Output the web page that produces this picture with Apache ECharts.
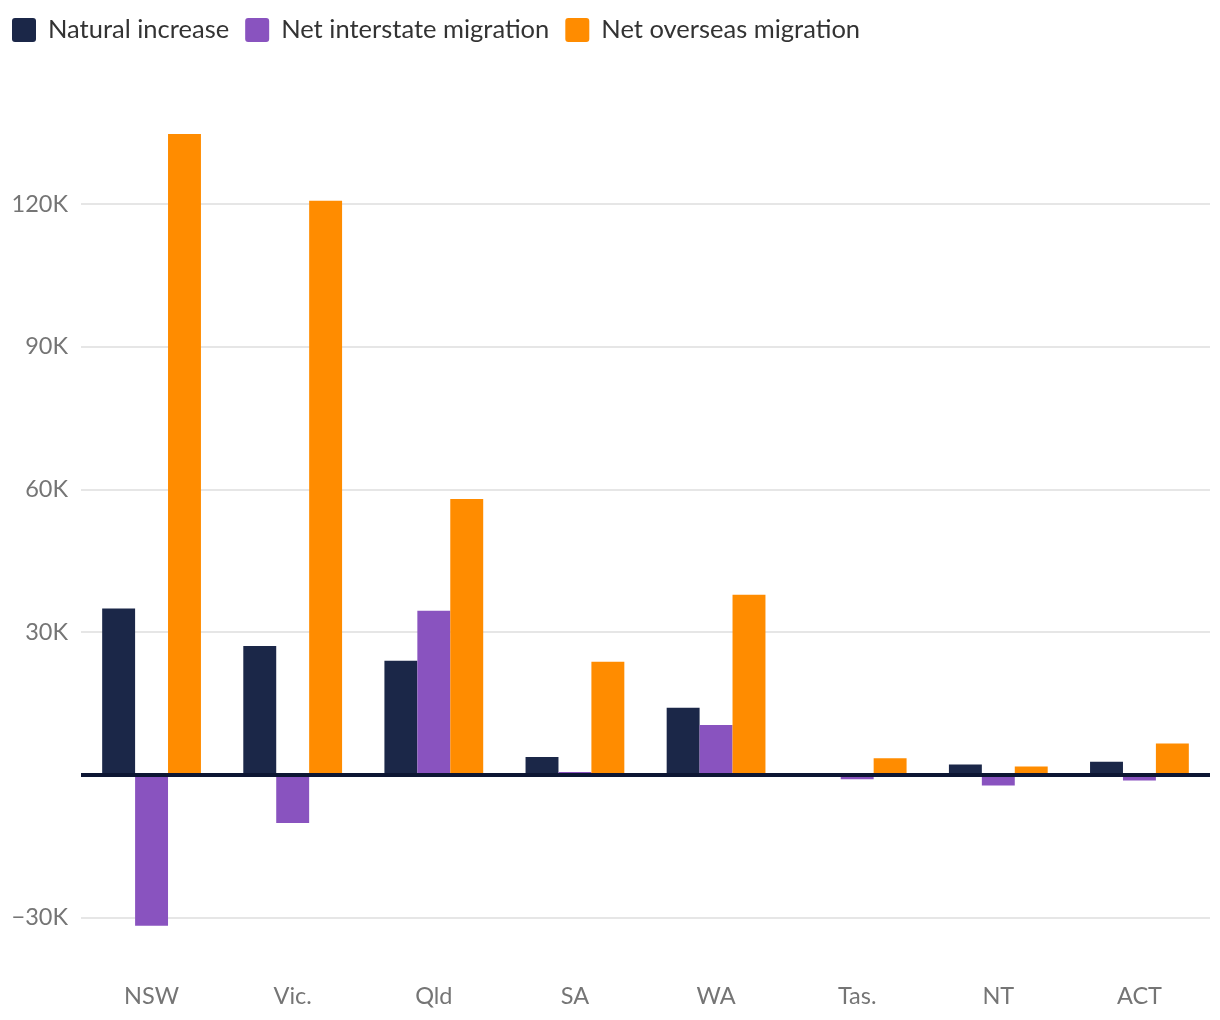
<!DOCTYPE html>
<html><head><meta charset="utf-8">
<script src="https://cdn.jsdelivr.net/npm/echarts@6/dist/echarts.min.js"></script>
<style>html,body{margin:0;padding:0;background:#fff}#c{width:1220px;height:1020px}</style>
</head><body><div id="c"></div>
<script>
const categories = ['NSW', 'Vic.', 'Qld', 'SA', 'WA', 'Tas.', 'NT', 'ACT'];
const naturalIncrease = [35000, 27100, 24000, 3800, 14100, 100, 2200, 2800];
const netInterstate = [-31700, -10100, 34500, 600, 10500, -900, -2200, -1150];
const netOverseas = [134700, 120700, 58000, 23800, 37900, 3500, 1800, 6600];
const seriesNames = ['Natural increase', 'Net interstate migration', 'Net overseas migration'];
const colors = ['#1b2748', '#8953bf', '#ff8c00'];
const yMin = -37500, yMax = 135000, yStep = 7500, labelStep = 30000;

const chart = echarts.init(document.getElementById('c'));
const font = 'Lato, "Noto Sans", sans-serif';
const per = labelStep / yStep;
const firstIdx = ((-yMin) % labelStep) / yStep;
const lineColors = [];
for (let i = 0; i < per; i++) lineColors.push(i === firstIdx % per ? '#e6e6e6' : 'rgba(0,0,0,0)');
const iconPath = 'path://M3,0 H21 A3,3 0 0 1 24,3 V21 A3,3 0 0 1 21,24 H3 A3,3 0 0 1 0,21 V3 A3,3 0 0 1 3,0 Z';

chart.setOption({
  animation: false,
  color: colors,
  textStyle: { fontFamily: font },
  legend: {
    left: 12, top: 17, padding: 0, itemWidth: 24, itemHeight: 24, itemGap: 16,
    icon: iconPath,
    textStyle: { fontSize: 25.5, color: '#333', fontFamily: font, padding: [0, 0, 0, 7] },
    data: seriesNames
  },
  grid: { left: 81, right: 10, top: 132.6, bottom: 66.6, containLabel: false },
  xAxis: {
    type: 'category', data: categories,
    axisLine: { show: false }, axisTick: { show: false },
    axisLabel: { fontSize: 23.5, color: '#757575', margin: 31, fontFamily: font }
  },
  yAxis: {
    type: 'value', min: yMin, max: yMax, interval: yStep,
    axisLine: { show: false }, axisTick: { show: false },
    splitLine: { show: true, lineStyle: { color: lineColors, width: 2 } },
    axisLabel: {
      fontSize: 23.5, color: '#757575', margin: 13, fontFamily: font,
      formatter: v => (v === 0 || v % labelStep !== 0) ? '' : (v < 0 ? '\u2212' : '') + Math.abs(v / 1000) + 'K'
    }
  },
  series: [
    { name: seriesNames[0], type: 'bar', data: naturalIncrease, barGap: '0%', barCategoryGap: '30%',
      markLine: { silent: true, symbol: 'none', label: { show: false },
        lineStyle: { color: '#0d1633', width: 4, type: 'solid' }, data: [{ yAxis: 0 }], z: 10 } },
    { name: seriesNames[1], type: 'bar', data: netInterstate, barGap: '0%', barCategoryGap: '30%' },
    { name: seriesNames[2], type: 'bar', data: netOverseas, barGap: '0%', barCategoryGap: '30%' }
  ]
});
</script></body></html>
